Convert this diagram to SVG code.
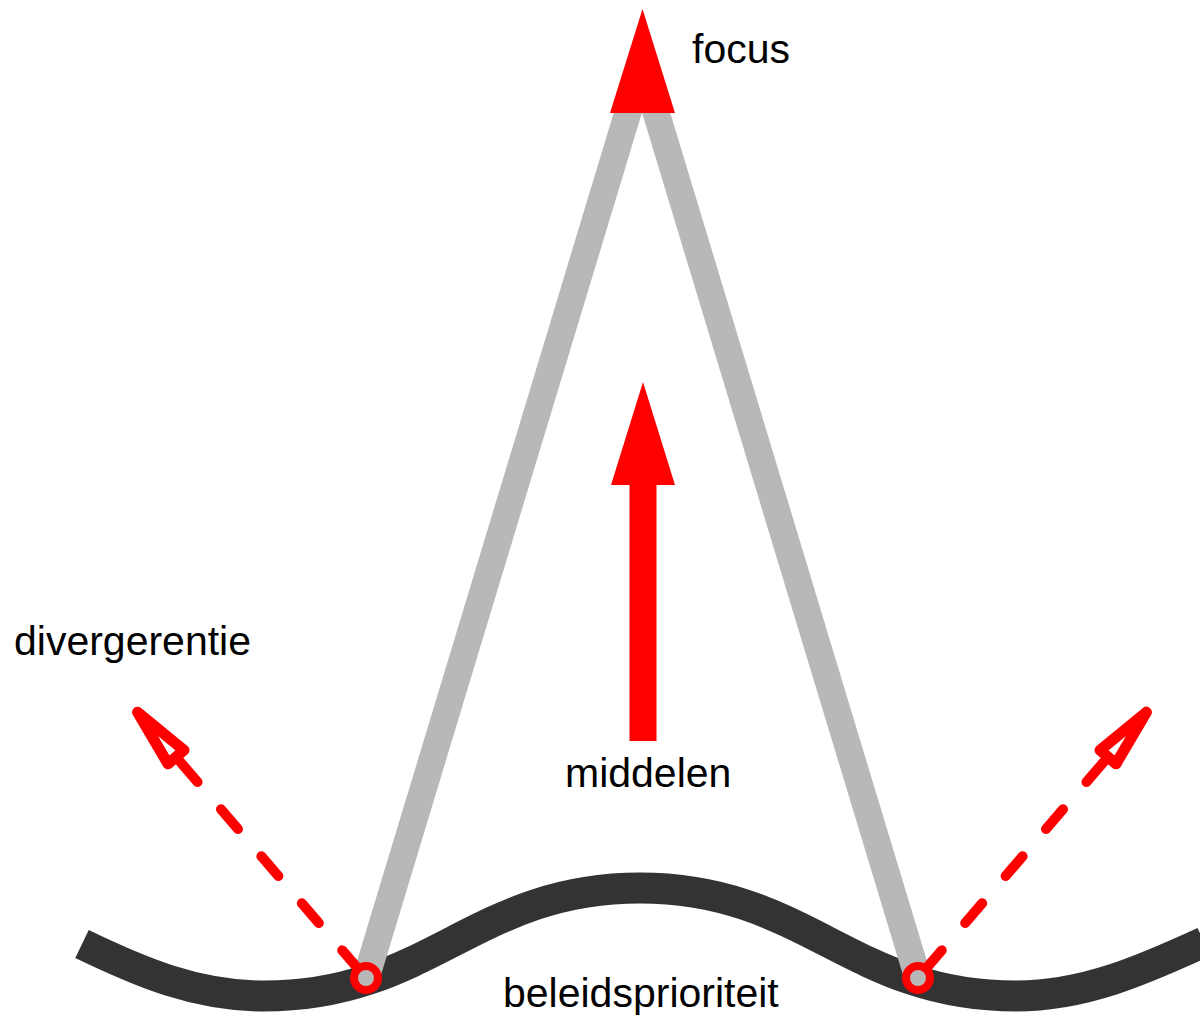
<svg xmlns="http://www.w3.org/2000/svg" width="1200" height="1021" viewBox="0 0 1200 1021">
  <style>
    .lbl { font-family: "Liberation Sans", Arial, Helvetica, sans-serif; font-size: 41px; fill: #000; }
    .red { fill: #ff0000; }
    .beam { stroke: #b8b8b8; stroke-width: 27; fill: none; }
    .dash { stroke: #ff0000; stroke-width: 10; fill: none; stroke-linecap: round; stroke-dasharray: 26 36; stroke-dashoffset: 55; }
    .head { fill: #ffffff; stroke: #ff0000; stroke-width: 11; stroke-linejoin: round; }
    .pivot { fill: #b8b8b8; stroke: #ff0000; stroke-width: 8; }
  </style>
  <defs>
    <clipPath id="belowFocus">
      <rect x="0" y="113" width="1200" height="908"/>
    </clipPath>
    <path id="openHead" class="head" d="M59,0 L0,-10.5 L0,10.5 Z"/>
  </defs>
  <rect width="1200" height="1021" fill="#ffffff"/>

  <g id="beleidsprioriteit">
    <path d="M82,944 C140,972 196,996 264,996 C430,996 474,888 640,888 C806,888 850,996 1016,996 C1084,996 1143,970 1204,942" fill="none" stroke="#333333" stroke-width="31"/>
    <text class="lbl" x="503" y="1007">beleidsprioriteit</text>
  </g>

  <g id="connectors">
    <g clip-path="url(#belowFocus)">
      <line class="beam" x1="366" y1="978" x2="642" y2="66"/>
      <line class="beam" x1="918" y1="978" x2="642" y2="66"/>
    </g>
    <path class="dash" d="M176,757 L366,978"/>
    <path class="dash" d="M1108,757 L918,978"/>
  </g>

  <g id="divergentie-links">
    <use href="#openHead" transform="translate(176,757) rotate(-130.6)"/>
  </g>
  <g id="divergentie-rechts">
    <use href="#openHead" transform="translate(1108,757) rotate(-49.4)"/>
  </g>
  <g id="divergentie-label">
    <text class="lbl" x="14" y="655">divergerentie</text>
  </g>

  <g id="pivot-links">
    <circle class="pivot" cx="366" cy="978" r="12"/>
  </g>
  <g id="pivot-rechts">
    <circle class="pivot" cx="918" cy="978" r="12"/>
  </g>

  <g id="focus">
    <polygon class="red" points="642.5,9 675,113 610,113"/>
    <text class="lbl" x="692" y="63">focus</text>
  </g>

  <g id="middelen">
    <polygon class="red" points="643,382 675,485 656.5,485 656.5,741 629.5,741 629.5,485 611,485"/>
    <text class="lbl" x="565" y="787">middelen</text>
  </g>
</svg>
